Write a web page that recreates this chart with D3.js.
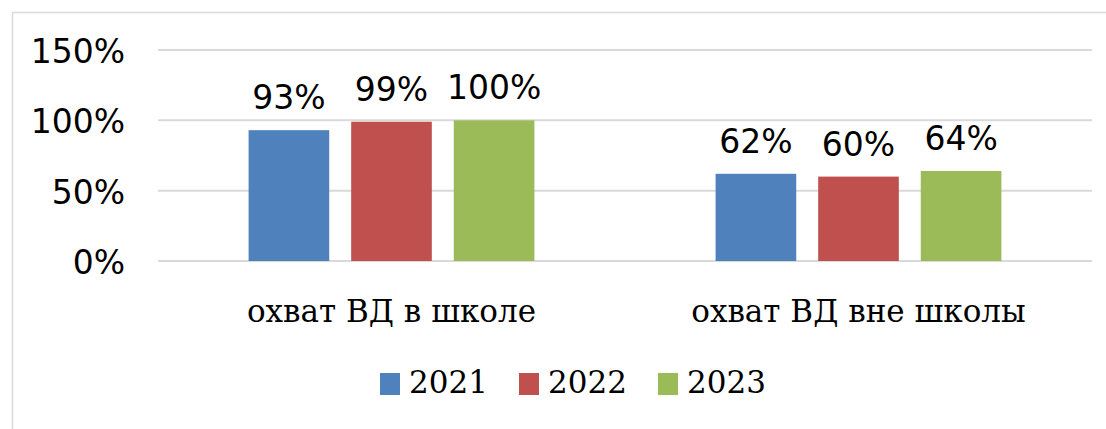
<!DOCTYPE html>
<html>

<head>
    <meta charset="utf-8">
    <style>
        body {
            margin: 0;
            background: #fff;
        }

        .tick-label,
        .value-label {
            font-family: "DejaVu Sans", sans-serif;
            font-size: 33px;
            fill: #000;
        }

        .cat-label,
        .legend-label {
            font-family: "DejaVu Serif", serif;
            font-size: 31px;
            fill: #000;
        }
    </style>
</head>

<body>
    <svg width="1106" height="429"></svg>
    <script src="https://cdn.jsdelivr.net/npm/d3@7"></script>
    <script>
        // data
        var categories = ["охват ВД в школе", "охват ВД вне школы"];
        var years = ["2021", "2022", "2023"];
        var values2021 = [93, 62];
        var values2022 = [99, 60];
        var values2023 = [100, 64];
        var yTicks = [0, 50, 100, 150];
        var colors = ["#4F81BD", "#C0504D", "#9BBB59"];

        var series = [values2021, values2022, values2023];

        var svg = d3.select("svg");

        // chart frame (only left and top edges are visible)
        svg.append("path")
            .attr("d", "M12.5,429 L12.5,12.5 L1106,12.5")
            .attr("fill", "none")
            .attr("stroke", "#d9d9d9")
            .attr("stroke-width", 1.5);

        // scales
        var plotLeft = 158, plotRight = 1092;
        var y = d3.scaleLinear().domain([0, 150]).range([261, 50]);
        var x0 = d3.scaleBand()
            .domain(categories)
            .range([plotLeft, plotRight])
            .paddingInner(0.388)
            .paddingOuter(0.194);
        var x1 = d3.scaleBand()
            .domain(years)
            .range([0, x0.bandwidth()])
            .paddingInner(0.214);

        // gridlines
        svg.append("g")
            .selectAll("line")
            .data(yTicks)
            .enter().append("line")
            .attr("x1", plotLeft)
            .attr("x2", plotRight)
            .attr("y1", function (d) { return y(d); })
            .attr("y2", function (d) { return y(d); })
            .attr("stroke", "#d9d9d9")
            .attr("stroke-width", 2);

        // y tick labels
        svg.append("g")
            .selectAll("text")
            .data(yTicks)
            .enter().append("text")
            .attr("class", "tick-label")
            .attr("x", 125)
            .attr("y", function (d) { return y(d) + 13; })
            .attr("text-anchor", "end")
            .text(function (d) { return d + "%"; });

        // bars
        var rows = [];
        categories.forEach(function (c, i) {
            years.forEach(function (yr, j) {
                rows.push({ cat: c, year: yr, value: series[j][i], color: colors[j] });
            });
        });

        svg.append("g")
            .selectAll("rect")
            .data(rows)
            .enter().append("rect")
            .attr("x", function (d) { return x0(d.cat) + x1(d.year); })
            .attr("y", function (d) { return y(d.value); })
            .attr("width", x1.bandwidth())
            .attr("height", function (d) { return y(0) - y(d.value); })
            .attr("fill", function (d) { return d.color; });

        // value labels
        svg.append("g")
            .selectAll("text")
            .data(rows)
            .enter().append("text")
            .attr("class", "value-label")
            .attr("x", function (d) { return x0(d.cat) + x1(d.year) + x1.bandwidth() / 2; })
            .attr("y", function (d) { return y(d.value) - 21; })
            .attr("text-anchor", "middle")
            .text(function (d) { return d.value + "%"; });

        // category labels
        svg.append("g")
            .selectAll("text")
            .data(categories)
            .enter().append("text")
            .attr("class", "cat-label")
            .attr("x", function (d) { return x0(d) + x0.bandwidth() / 2; })
            .attr("y", 322)
            .attr("text-anchor", "middle")
            .text(function (d) { return d; });

        // legend
        var legend = svg.append("g")
            .attr("transform", "translate(380,373)");
        var item = legend.selectAll("g")
            .data(years)
            .enter().append("g")
            .attr("transform", function (d, i) { return "translate(" + (i * 139) + ",0)"; });
        item.append("rect")
            .attr("width", 20)
            .attr("height", 22)
            .attr("fill", function (d, i) { return colors[i]; });
        item.append("text")
            .attr("class", "legend-label")
            .attr("x", 29)
            .attr("y", 20)
            .text(function (d) { return d; });
    </script>
</body>

</html>
